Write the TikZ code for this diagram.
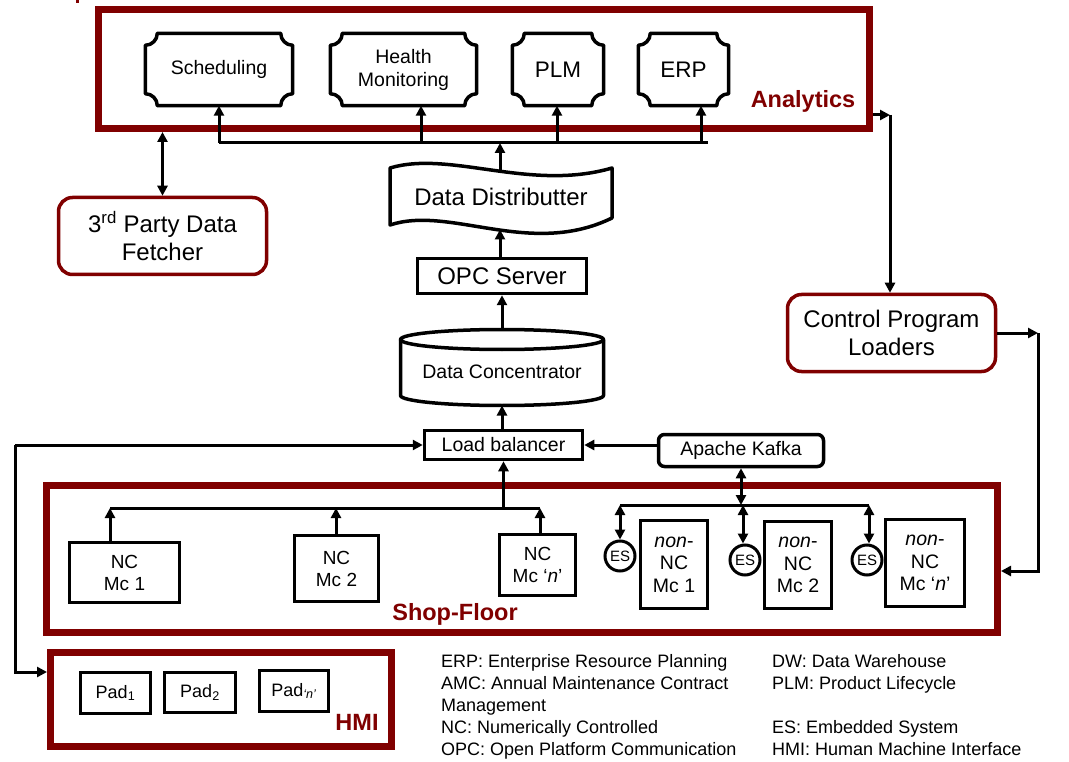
\documentclass[tikz,border=0pt]{standalone}
\usepackage{fontspec}
\setmainfont{Liberation Sans}
\usetikzlibrary{arrows.meta,calc}
\definecolor{dred}{RGB}{128,0,0}
\newcommand{\fsz}[2]{\fontsize{#1}{#2}\selectfont}
\newcommand{\plaque}[1]{%
 \draw[modl] ($(#1.north west)+(0,12)$) arc[start angle=90,end angle=0,radius=12]
   -- ($(#1.north east)+(-12,0)$) arc[start angle=180,end angle=90,radius=12]
   -- ($(#1.south east)+(0,-12)$) arc[start angle=270,end angle=180,radius=12]
   -- ($(#1.south west)+(12,0)$) arc[start angle=0,end angle=-90,radius=12] -- cycle;}
\begin{document}
\begin{tikzpicture}[x=1pt,y=-1pt,
  arr/.style={line width=3pt, -{Triangle[length=10pt,width=10pt]}},
  darr/.style={line width=3pt, {Triangle[length=10pt,width=10pt]}-{Triangle[length=10pt,width=10pt]}},
  ln/.style={line width=3pt},
  modl/.style={line width=3.5pt, line join=round},
  frame/.style={draw=dred, line width=7pt, inner sep=0pt},
  box/.style={draw, line width=3.5pt, inner sep=0pt, align=center},
  rbox/.style={draw=dred, line width=3.5pt, rounded corners=14pt, inner sep=0pt, align=center},
  modn/.style={inner sep=0pt, align=center},
  lbl/.style={text=dred, inner sep=0pt, font=\bfseries\fsz{23.5}{27}},
  leg/.style={anchor=base west, inner sep=0pt, font=\fsz{18}{22}},
]
\useasboundingbox (0,0) rectangle (1069,762);
\fill[dred] (76,0) rectangle (78.5,3);

% ---------- Analytics ----------
\node[frame, minimum width=771pt, minimum height=119pt] (analytics) at (484,69) {};
\node[lbl] (anl) at (803,101) {Analytics};

\node[modn, minimum width=147pt, minimum height=72pt, font=\fsz{19.5}{23}] (sched) at (219,69.5) {Scheduling};
\node[modn, minimum width=146pt, minimum height=72pt, font=\fsz{19.5}{23}] (health) at (403.5,69.5) {Health\\Monitoring};
\node[modn, minimum width=91pt, minimum height=72pt, font=\fsz{22.5}{26}] (plm) at (558,69.5) {PLM};
\node[modn, minimum width=90pt, minimum height=72pt, font=\fsz{22.5}{26}] (erp) at (683.5,69.5) {ERP};
\plaque{sched}\plaque{health}\plaque{plm}\plaque{erp}

\coordinate (bS) at (219,143);
\coordinate (bH) at (421,143);
\coordinate (bD) at (500,143);
\coordinate (bP) at (557,143);
\coordinate (bE) at (701,143);
\coordinate (bR) at (708,143);
\draw[ln] (bS) -- (bR);
\draw[arr] (bS) -- (sched.south);
\draw[arr] (bH) -- (bH |- health.south);
\draw[arr] (bP) -- (bP |- plm.south);
\draw[arr] (bE) -- (bE |- erp.south);

% ---------- 3rd party ----------
\node[rbox, minimum width=208pt, minimum height=77pt, font=\fsz{24}{28}] (tp) at (162.5,236) {3\textsuperscript{rd} Party Data\\Fetcher};
\draw[darr] (tp.north) -- (tp.north |- analytics.south);

% ---------- Data distributter ----------
\node[modn, minimum width=222pt, minimum height=50pt, font=\fsz{24}{28}] (dd) at (501,197) {Data Distributter};
\draw[modl] (390,168) .. controls (450,150) and (530,192) .. (612,168) -- (612,218)
   .. controls (530,258) and (450,205) .. (390,225) -- cycle;
\coordinate (ddtop) at (500,170.5);
\coordinate (ddbot) at (500,229.5);
\draw[arr] (ddtop) -- (bD);

% ---------- OPC ----------
\node[box, minimum width=169pt, minimum height=35pt, font=\fsz{24}{28}] (opc) at (502,276) {OPC Server};
\draw[arr] (ddbot |- opc.north) -- (ddbot);

% ---------- Data concentrator ----------
\node[modn, font=\fsz{19.5}{23}] (dc) at (502,372) {Data Concentrator};
\draw[modl] (502,339.5) ellipse [x radius=101.5, y radius=10];
\draw[modl] (400.5,339.5) -- (400.5,395.5) arc[start angle=180, end angle=0, x radius=101.5, y radius=10] -- (603.5,339.5);
\coordinate (dcT) at (502,329.5);
\coordinate (dcB) at (502,405.5);
\draw[arr] (dcT) -- (dcT |- opc.south);

% ---------- Load balancer, Kafka ----------
\node[box, minimum width=158pt, minimum height=29pt, font=\fsz{19.5}{23}] (lb) at (503.5,445) {Load balancer};
\draw[arr] (dcB |- lb.north) -- (dcB);
\node[box, rounded corners=6pt, minimum width=165pt, minimum height=32pt, font=\fsz{19.5}{23}] (kafka) at (741,450.5) {Apache Kafka};
\draw[arr] (kafka.west |- lb.east) -- (lb.east);

% ---------- Control program loaders ----------
\node[rbox, minimum width=208pt, minimum height=77pt, font=\fsz{24}{28}] (cpl) at (891.5,333) {Control Program\\Loaders};
\coordinate (ac) at (890,115);
\draw[arr] (analytics.east |- ac) -- (ac);
\draw[arr] (ac) -- (ac |- cpl.north);

% ---------- Shop floor ----------
\node[frame, minimum width=951pt, minimum height=147pt] (shop) at (522,559) {};
\node[lbl] (sfl) at (455,614) {Shop-Floor};
\coordinate (cc) at (1038,333);
\coordinate (y571) at (0,571);
\draw[arr] (cpl.east) -- (cc);
\draw[arr] (cc) |- (shop.east |- y571);

\node[box, minimum width=110pt, minimum height=60pt, font=\fsz{19}{22}] (nc1) at (124.5,572.5) {NC\\Mc 1};
\node[box, minimum width=84pt, minimum height=66pt, font=\fsz{19}{22}] (nc2) at (336.5,568.5) {NC\\Mc 2};
\node[box, minimum width=76pt, minimum height=61pt, font=\fsz{19}{22}] (ncn) at (537.5,565) {NC\\Mc ‘\textit{n}’};
\coordinate (n1) at (110,508);
\coordinate (n2) at (336,508);
\coordinate (n3) at (540,508);
\draw[ln] (n1) -- (n3);
\draw[arr] (n1 |- nc1.north) -- (n1);
\draw[arr] (n2 |- nc2.north) -- (n2);
\draw[arr] (n3 |- ncn.north) -- (n3);
\draw[arr] (lb.south |- n1) -- (lb.south);

\node[box, minimum width=67pt, minimum height=88pt, font=\fsz{19.5}{22.5}] (m1) at (674,564.5) {\textit{non}-\\NC\\Mc 1};
\node[box, minimum width=67pt, minimum height=87pt, font=\fsz{19.5}{22.5}] (m2) at (798,565) {\textit{non}-\\NC\\Mc 2};
\node[box, minimum width=79pt, minimum height=87pt, font=\fsz{19.5}{22.5}] (mn) at (925,563) {\textit{non}-\\NC\\Mc ‘\textit{n}’};
\node[draw, circle, line width=3pt, minimum size=30pt, inner sep=0pt, font=\fsz{15}{17}] (es1) at (620,556) {ES};
\node[draw, circle, line width=3pt, minimum size=30pt, inner sep=0pt, font=\fsz{15}{17}] (es2) at (745,560) {ES};
\node[draw, circle, line width=3pt, minimum size=30pt, inner sep=0pt, font=\fsz{15}{17}] (es3) at (867,560) {ES};
\coordinate (k1) at (620,505);
\coordinate (k2) at (743,505);
\coordinate (k3) at (869,505);
\draw[ln] (k1) -- (k3);
\draw[darr] (kafka.south) -- (kafka.south |- k1);
\draw[darr] (k1) -- (k1 |- es1.north);
\draw[darr] (k2) -- (k2 |- es2.north);
\draw[darr] (k3) -- (k3 |- es3.north);

% ---------- HMI ----------
\node[frame, minimum width=341pt, minimum height=94pt] (hmi) at (221,699.5) {};
\node[lbl] (hmil) at (357,722) {HMI};
\node[box, minimum width=70pt, minimum height=41pt, font=\fsz{18}{21}] (pad1) at (115.5,693) {Pad\textsubscript{1}};
\node[box, minimum width=71pt, minimum height=40pt, font=\fsz{18}{21}] (pad2) at (200,692.5) {Pad\textsubscript{2}};
\node[box, minimum width=69pt, minimum height=41pt, font=\fsz{18}{21}] (padn) at (294,691) {Pad\textsubscript{\textit{‘n’}}};
\coordinate (lc) at (15,445);
\coordinate (h672) at (0,672);
\draw[arr] (lc) -- (lb.west);
\draw[arr] (lc) |- (hmi.west |- h672);

% ---------- Legend ----------
\node[leg] (l1) at (441,667) {ERP: Enterprise Resource Planning};
\node[leg] (l2) at (441,689) {AMC: Annual Maintenance Contract};
\node[leg] (l3) at (441,711) {Management};
\node[leg] (l4) at (441,733) {NC: Numerically Controlled};
\node[leg] (l5) at (441,755) {OPC: Open Platform Communication};
\node[leg] (r1) at (772,667) {DW: Data Warehouse};
\node[leg] (r2) at (772,689) {PLM: Product Lifecycle};
\node[leg] (r4) at (772,733) {ES: Embedded System};
\node[leg] (r5) at (772,755) {HMI: Human Machine Interface};
\end{tikzpicture}
\end{document}
